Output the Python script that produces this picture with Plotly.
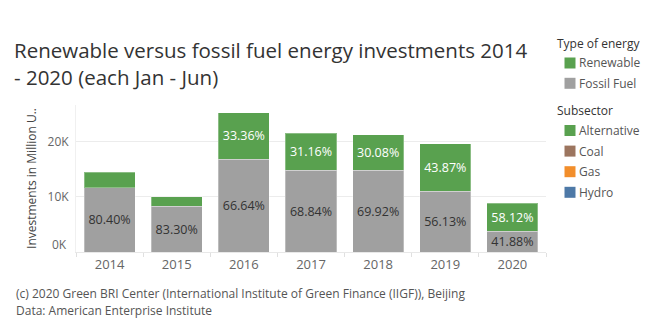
import plotly.graph_objects as go

# Investment totals (million USD, Jan-Jun of each year) and the share of each energy type
years = ["2014", "2015", "2016", "2017", "2018", "2019", "2020"]
totals = [14500, 10000, 25300, 21600, 21300, 19700, 8900]
fossil_pct = [80.40, 83.30, 66.64, 68.84, 69.92, 56.13, 41.88]
renewable_pct = [19.60, 16.70, 33.36, 31.16, 30.08, 43.87, 58.12]
# renewable labels are only shown where the segment is tall enough
renewable_labelled = [False, False, True, True, True, True, True]

y_tick_vals = [10000, 20000]
y_tick_text = ["10K", "20K"]

energy_keys = ["Renewable", "Fossil Fuel"]
subsector_keys = ["Alternative", "Coal", "Gas", "Hydro"]

GREEN = "#59a14f"
GREY = "#a0a0a0"
SUBSECTOR_COLORS = [GREEN, "#9c755f", "#f28e2b", "#4e79a7"]
FONT = "Open Sans, Noto Sans, sans-serif"

W, H = 645, 334
ML, MR, MT, MB = 76, 99, 105, 82
PW, PH = W - ML - MR, H - MT - MB


def px_x(px):
    return (px - ML) / PW


def px_y(py):
    return (H - MB - py) / PH


fossil = [t * p / 100 for t, p in zip(totals, fossil_pct)]
renewable = [t * p / 100 for t, p in zip(totals, renewable_pct)]

bar_edge = dict(width=1, color="rgba(255,255,255,0.3)")

fig = go.Figure()
fig.add_bar(
    x=years, y=fossil, name="Fossil Fuel", marker=dict(color=GREY, line=bar_edge),
    text=[f"{p:.2f}%" for p in fossil_pct], textposition="inside",
    insidetextanchor="middle", textangle=0, constraintext="none",
    textfont=dict(color="#333333", size=12.5, family=FONT),
)
fig.add_bar(
    x=years, y=renewable, name="Renewable", marker=dict(color=GREEN, line=bar_edge),
    text=[f"{p:.2f}%" if show else "" for p, show in zip(renewable_pct, renewable_labelled)],
    textposition="inside", insidetextanchor="middle", textangle=0, constraintext="none",
    textfont=dict(color="white", size=12.5, family=FONT),
)

shapes = []
annotations = []


def legend_block(title, title_y, names, colors, first_y, step):
    annotations.append(dict(
        text=title, xref="paper", yref="paper", x=px_x(555), y=px_y(title_y),
        xanchor="left", yanchor="middle", showarrow=False,
        font=dict(size=12, color="#333333", family=FONT)))
    for i, (name, col) in enumerate(zip(names, colors)):
        cy = first_y + i * step
        shapes.append(dict(
            type="rect", xref="paper", yref="paper",
            x0=px_x(564.5), x1=px_x(575.5), y0=px_y(cy - 5.5), y1=px_y(cy + 5.5),
            fillcolor=col, line=dict(width=0)))
        annotations.append(dict(
            text=name, xref="paper", yref="paper", x=px_x(577), y=px_y(cy),
            xanchor="left", yanchor="middle", showarrow=False,
            font=dict(size=12, color="#555555", family=FONT)))


legend_block("Type of energy", 43, energy_keys, [GREEN, GREY], 63, 20.3)
legend_block("Subsector", 110, subsector_keys, SUBSECTOR_COLORS, 130.5, 20.6)

# zero label sits just above the baseline
annotations.append(dict(
    text="0K", xref="paper", yref="y", x=0, y=0, xanchor="right", yanchor="middle",
    xshift=-7, yshift=8, showarrow=False,
    font=dict(size=12, color="#666666", family=FONT)))

annotations += [
    dict(text="(c) 2020 Green BRI Center (International Institute of Green Finance (IIGF)), Beijing",
         xref="paper", yref="paper", x=px_x(14), y=px_y(293.5),
         xanchor="left", yanchor="middle", showarrow=False,
         font=dict(size=12, color="#555555", family=FONT)),
    dict(text="Data: American Enterprise Institute",
         xref="paper", yref="paper", x=px_x(14), y=px_y(310.5),
         xanchor="left", yanchor="middle", showarrow=False,
         font=dict(size=12, color="#555555", family=FONT)),
]

fig.update_layout(
    width=W, height=H,
    margin=dict(l=ML, r=MR, t=MT, b=MB),
    paper_bgcolor="white", plot_bgcolor="white",
    barmode="stack", bargap=0.24,
    font=dict(family=FONT, color="#555555"),
    showlegend=False,
    title=dict(
        text="Renewable versus fossil fuel energy investments 2014<br>- 2020 (each Jan - Jun)",
        xref="container", yref="container", x=14 / W, xanchor="left",
        y=1 - 58 / H, yanchor="top",
        font=dict(size=20.5, color="#333333", family=FONT),
    ),
    xaxis=dict(
        showgrid=False, ticks="outside", tickson="boundaries", ticklen=4,
        tickcolor="#e0e0e0", showline=True, linecolor="#e8e8e8",
        tickfont=dict(size=13, color="#666666", family=FONT),
    ),
    yaxis=dict(
        range=[0, 26700], tickvals=y_tick_vals, ticktext=y_tick_text,
        showgrid=True, gridcolor="#ececec", zeroline=False,
        showline=True, linecolor="#f0f0f0", ticks="", ticklabelstandoff=4,
        tickfont=dict(size=12, color="#666666", family=FONT),
        title=dict(text="Investments in Million U..", standoff=8,
                   font=dict(size=12, color="#444444", family=FONT)),
    ),
    shapes=shapes,
    annotations=annotations,
)

fig.write_html("out.html")
